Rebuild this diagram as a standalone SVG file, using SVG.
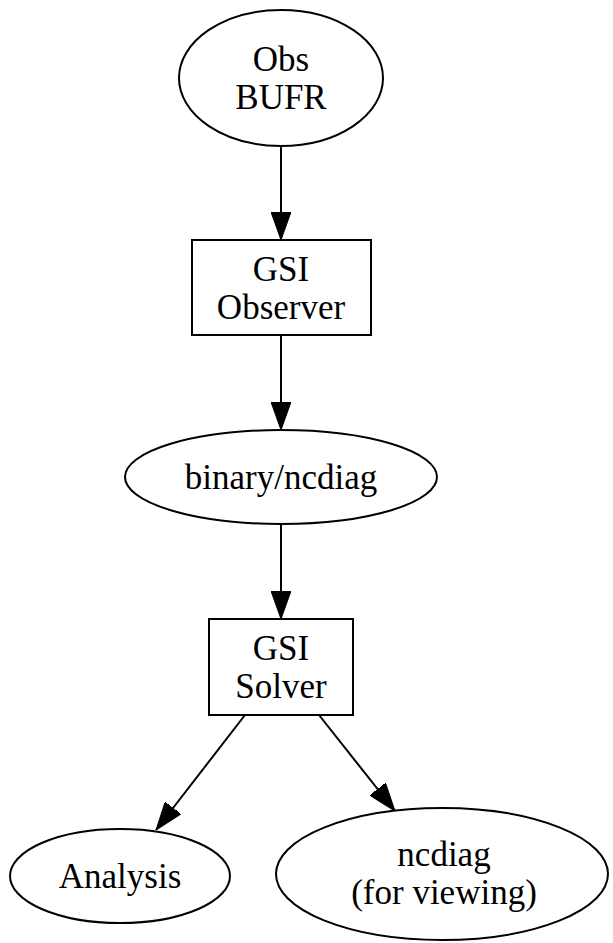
<svg xmlns="http://www.w3.org/2000/svg" width="613" height="943" viewBox="0 0 613 943">
  <style>
    .shape { fill: #ffffff; stroke: #000000; stroke-width: 2; }
    .edge { fill: none; stroke: #000000; stroke-width: 2; }
    text { font-family: "Liberation Serif", "Times New Roman", serif; font-size: 35px; fill: #000000; text-anchor: middle; }
  </style>
  <defs>
    <marker id="arrow" viewBox="0 0 28 20" refX="28" refY="10" markerWidth="28" markerHeight="20" markerUnits="userSpaceOnUse" orient="auto">
      <path d="M0,0 L28,10 L0,20 Z" fill="#000000" stroke="#000000" stroke-width="1"/>
    </marker>
  </defs>
  <rect width="613" height="943" fill="#ffffff"/>

  <g id="connectors">
    <line class="edge" x1="281" y1="146" x2="281" y2="240" marker-end="url(#arrow)"/>
    <line class="edge" x1="281" y1="335" x2="281" y2="430" marker-end="url(#arrow)"/>
    <line class="edge" x1="281" y1="524" x2="281" y2="619" marker-end="url(#arrow)"/>
    <line class="edge" x1="245" y1="715" x2="156" y2="830" marker-end="url(#arrow)"/>
    <line class="edge" x1="319" y1="715" x2="395" y2="811" marker-end="url(#arrow)"/>
  </g>

  <g id="obs-bufr">
    <ellipse class="shape" cx="281" cy="78" rx="102" ry="68"/>
    <text x="281" y="71">Obs</text>
    <text x="281" y="109">BUFR</text>
  </g>

  <g id="gsi-observer">
    <rect class="shape" x="192" y="240" width="179" height="95"/>
    <text x="281" y="281">GSI</text>
    <text x="281" y="319">Observer</text>
  </g>

  <g id="binary-ncdiag">
    <ellipse class="shape" cx="281" cy="477" rx="156" ry="47"/>
    <text x="281" y="489">binary/ncdiag</text>
  </g>

  <g id="gsi-solver">
    <rect class="shape" x="209" y="619" width="144" height="96"/>
    <text x="281" y="660">GSI</text>
    <text x="281" y="698">Solver</text>
  </g>

  <g id="analysis">
    <ellipse class="shape" cx="120" cy="876" rx="110" ry="47"/>
    <text x="120" y="888">Analysis</text>
  </g>

  <g id="ncdiag-viewing">
    <ellipse class="shape" cx="442" cy="874" rx="166" ry="66"/>
    <text x="444" y="866">ncdiag</text>
    <text x="444" y="904">(for viewing)</text>
  </g>
</svg>
